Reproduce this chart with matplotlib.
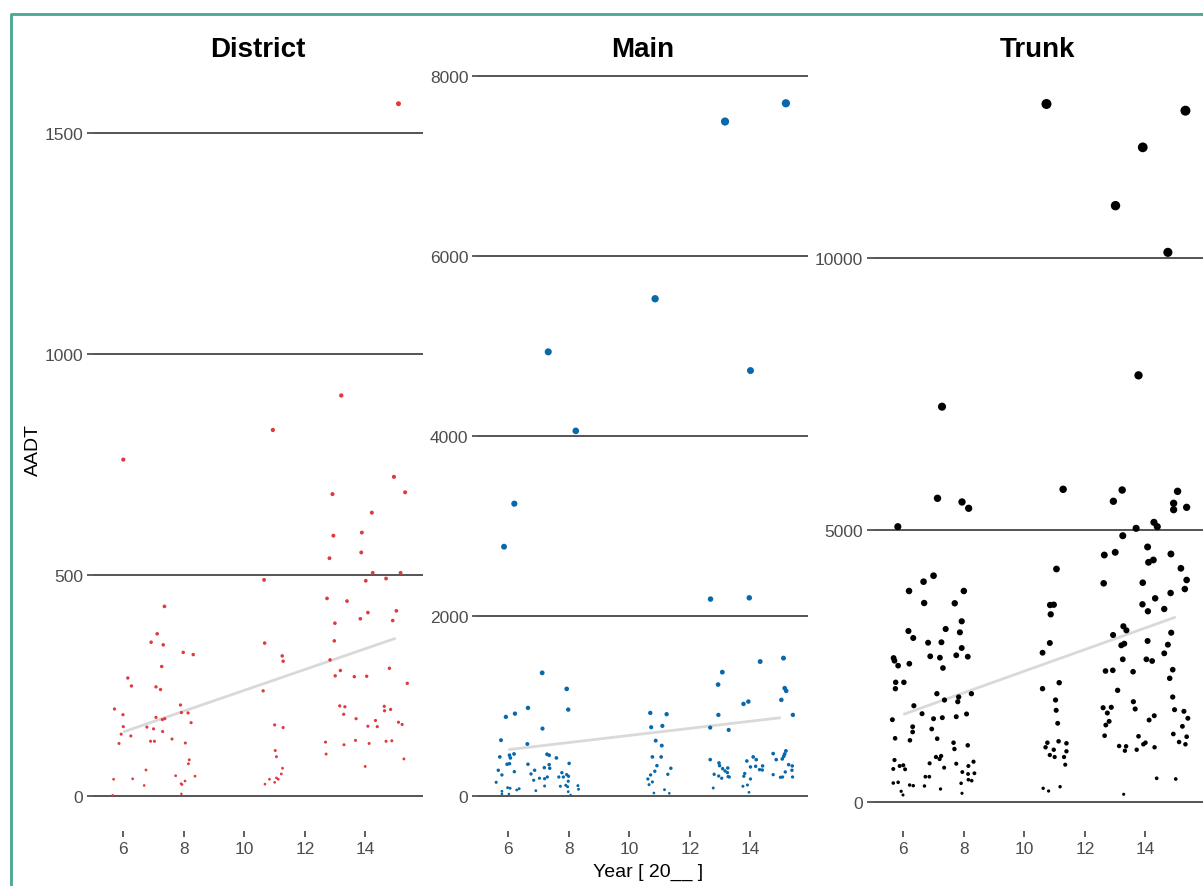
import matplotlib
matplotlib.use("Agg")
import matplotlib.pyplot as plt
from matplotlib.lines import Line2D
import numpy as np

plt.rcParams["font.family"] = ["Liberation Sans", "DejaVu Sans"]

PANELS = ["District", "Main", "Trunk"]
COLORS = {"District": "#E0393E", "Main": "#0868AC", "Trunk": "#000000"}
YTICKS = {"District": [0, 500, 1000, 1500],
          "Main": [0, 2000, 4000, 6000, 8000],
          "Trunk": [0, 5000, 10000]}
YLIMS = {"District": (-79, 1649), "Main": (-389, 8100), "Trunk": (-533, 13511)}
XTICKS = [6, 8, 10, 12, 14]

# (jittered year after 2000, AADT)
DISTRICT = [
    (6.0, 761), (10.94, 828), (13.2, 906), (15.09, 1566), (14.94, 722), (12.91, 683), (15.31, 687),
    (14.21, 641), (12.94, 589), (13.88, 596), (12.81, 538), (13.86, 551), (14.24, 505), (15.16, 505),
    (10.65, 489), (14.01, 487), (14.68, 492), (12.73, 447), (13.39, 441), (7.36, 429), (15.02, 419),
    (14.08, 415), (13.83, 401), (14.90, 397), (12.99, 391), (7.12, 367), (6.92, 348), (10.67, 346),
    (12.97, 351), (7.32, 342), (7.98, 325), (8.31, 320), (11.25, 317), (11.28, 305), (12.83, 308),
    (7.27, 293), (14.79, 289), (13.17, 284), (13.0, 272), (13.63, 270), (14.04, 271), (6.15, 267),
    (6.27, 249), (7.08, 247), (7.23, 241), (15.38, 255), (10.62, 238), (7.89, 206), (5.71, 197),
    (7.92, 189), (8.14, 188), (13.15, 204), (13.32, 202), (14.62, 203), (14.63, 193), (14.83, 196),
    (5.99, 184), (13.28, 185), (7.08, 178), (7.29, 173), (7.37, 175), (13.69, 175), (8.24, 166),
    (14.33, 171), (15.09, 167), (15.21, 162), (6.0, 157), (6.78, 156), (7.0, 152), (7.30, 146),
    (11.0, 161), (11.28, 155), (14.08, 158), (14.39, 157), (5.93, 140), (6.25, 136), (7.61, 129),
    (6.90, 124), (7.03, 124), (5.86, 119), (8.05, 120), (12.68, 122), (13.67, 126), (14.12, 119),
    (14.68, 124), (14.87, 125), (13.29, 116), (11.02, 103), (12.70, 95), (11.06, 89), (8.18, 82),
    (8.15, 73), (15.27, 84), (13.99, 67), (11.26, 63), (6.75, 59), (11.22, 50), (7.73, 46),
    (8.37, 45), (5.68, 38), (6.31, 39), (10.83, 38), (11.06, 41), (11.12, 38), (8.04, 34),
    (11.0, 31), (7.91, 28), (7.94, 26), (6.69, 24), (10.68, 27), (5.65, 2), (7.92, 5),
]

MAIN = [
    (15.17, 7697), (13.16, 7494), (10.85, 5525), (7.32, 4935), (14.0, 4727), (8.23, 4057),
    (6.2, 3248), (5.86, 2770), (12.68, 2188), (13.96, 2202),
    (7.12, 1368), (7.93, 1190), (6.65, 979), (7.98, 960), (5.92, 879), (6.22, 915), (7.13, 749),
    (5.76, 620), (6.63, 578), (5.72, 434), (6.04, 453), (6.07, 423), (6.19, 467), (7.28, 464),
    (7.35, 453), (7.59, 423), (5.96, 353), (6.04, 359), (6.65, 353), (7.35, 348), (7.19, 315),
    (7.37, 308), (8.01, 362), (5.67, 286), (6.2, 270), (6.87, 286), (5.79, 234), (6.75, 245),
    (7.29, 211), (7.2, 192), (7.03, 197), (6.84, 175), (7.77, 259), (7.67, 211), (7.82, 211),
    (7.93, 237), (7.99, 219), (7.98, 164), (5.6, 152), (7.2, 111), (7.72, 108), (7.9, 119),
    (7.96, 103), (8.3, 115), (8.32, 75), (5.98, 92), (6.06, 86), (6.36, 81), (6.28, 67),
    (6.91, 59), (5.79, 52), (5.79, 22), (6.02, 22), (7.98, 48), (8.06, 11),
    (14.32, 1494), (15.09, 1532), (13.07, 1376), (12.93, 1238), (15.13, 1198), (15.18, 1168),
    (15.02, 1068), (13.77, 1023), (13.93, 1049), (10.69, 923), (11.23, 909), (12.94, 901),
    (15.4, 901), (10.72, 764), (11.09, 779), (12.67, 760), (13.28, 734), (10.87, 615),
    (11.07, 560), (10.76, 434), (11.05, 434), (10.91, 337), (11.37, 308), (10.84, 275),
    (11.27, 241), (10.7, 234), (10.61, 189), (10.76, 156), (10.65, 126), (11.16, 70),
    (10.81, 33), (11.32, 30), (12.67, 404), (12.96, 367), (12.98, 337), (13.08, 304),
    (13.16, 278), (13.25, 311), (13.24, 259), (12.8, 241), (12.95, 222), (13.05, 197),
    (13.26, 215), (13.3, 211), (12.77, 89), (13.88, 389), (14.09, 434), (14.19, 404),
    (14.0, 323), (14.17, 330), (14.3, 293), (14.4, 334), (14.39, 289), (13.81, 250),
    (13.78, 219), (14.0, 189), (13.9, 122), (13.75, 108), (13.95, 41), (14.75, 471),
    (14.85, 404), (15.05, 412), (15.1, 442), (15.13, 467), (15.17, 501), (15.26, 348),
    (15.38, 334), (15.37, 286), (15.15, 267), (14.75, 237), (14.99, 208), (15.06, 211), (15.39, 211),
]

TRUNK = [
    (10.73, 12831), (15.32, 12708), (13.91, 12034), (13.01, 10962), (14.74, 10104), (13.77, 7843),
    (7.28, 7267),
    (7.13, 5583), (7.94, 5515), (8.16, 5399), (5.82, 5061), (7.0, 4160), (6.67, 4050), (6.19, 3879),
    (8.0, 3879), (6.69, 3658), (7.7, 3653), (7.93, 3322), (6.17, 3143), (7.4, 3180), (7.87, 3119),
    (6.33, 3015), (6.82, 2928), (7.26, 2936), (7.93, 2831),
    (11.28, 5748), (13.23, 5735), (12.94, 5528), (15.06, 5711), (14.93, 5491), (14.93, 5373),
    (15.36, 5417), (14.28, 5141), (14.39, 5061), (13.69, 5031), (13.25, 4895), (14.07, 4688),
    (12.64, 4540), (13.0, 4590), (14.84, 4559), (14.1, 4406), (14.26, 4449), (11.06, 4283),
    (15.17, 4296), (12.62, 4020), (13.91, 4031), (15.36, 4081), (15.3, 3915), (14.83, 3842),
    (14.32, 3744), (10.85, 3621), (10.97, 3627), (10.87, 3450), (13.9, 3634), (14.08, 3506),
    (14.62, 3548), (13.27, 3230), (13.37, 3156), (14.85, 3112), (12.93, 3070), (10.84, 2923),
    (13.3, 2910), (14.07, 2960), (14.74, 2892), (13.2, 2880),
    (5.68, 2647), (5.71, 2597), (5.83, 2506), (6.2, 2542), (6.89, 2678), (7.21, 2653), (7.31, 2463),
    (7.75, 2697), (8.13, 2671), (5.75, 2200), (6.02, 2200), (5.74, 2083), (7.11, 1991), (7.36, 1875),
    (7.83, 1930), (7.8, 1844), (8.25, 1991), (6.35, 1770), (6.62, 1623), (5.64, 1513), (7.0, 1531),
    (7.29, 1550), (7.75, 1568), (8.09, 1618), (6.31, 1384), (6.31, 1287), (6.94, 1342), (5.73, 1171),
    (6.22, 1134), (7.12, 1164), (7.66, 1090), (7.69, 974), (8.13, 1042), (5.71, 772), (5.67, 607),
    (5.88, 662), (6.0, 675), (6.06, 601), (6.87, 711), (7.08, 827), (7.2, 790), (7.25, 846),
    (7.35, 631), (7.75, 704), (8.15, 662), (8.32, 741), (7.95, 551), (8.14, 515), (8.35, 528),
    (8.15, 410), (8.26, 392), (5.67, 349), (5.83, 362), (6.21, 312), (6.33, 300), (6.73, 465),
    (6.86, 465), (6.7, 294), (7.23, 239), (7.91, 344), (5.93, 197), (5.99, 129), (7.94, 160),
    (10.6, 2744), (14.62, 2733), (13.25, 2623), (14.03, 2623), (14.22, 2592), (12.68, 2408),
    (12.92, 2421), (13.59, 2395), (14.9, 2432), (14.8, 2274), (10.6, 2083), (11.15, 2193),
    (13.08, 2053), (11.03, 1875), (13.6, 1844), (14.9, 1930), (11.05, 1686), (12.6, 1733),
    (12.87, 1741), (13.66, 1710), (14.96, 1697), (15.27, 1667), (12.74, 1636), (15.4, 1539),
    (14.29, 1586), (14.12, 1507), (11.1, 1447), (12.8, 1483), (12.69, 1415), (15.22, 1391),
    (14.92, 1250), (15.36, 1200), (12.65, 1219), (13.77, 1208), (15.11, 1103), (15.32, 1061),
    (14.0, 1090), (13.93, 1061), (13.13, 1029), (13.36, 1024), (13.32, 943), (13.71, 961),
    (14.3, 1006), (10.76, 1090), (11.13, 1116), (11.39, 1079), (10.7, 1006), (10.97, 961),
    (11.39, 932), (10.84, 864), (11.0, 827), (11.31, 827), (11.35, 686), (14.37, 436),
    (15.0, 423), (10.62, 252), (10.8, 202), (11.18, 281), (13.28, 142),
]

POINTS = {"District": DISTRICT, "Main": MAIN, "Trunk": TRUNK}
# linear trend, value at 2006 and 2015
TREND_YEARS = [6, 15]
TREND = {"District": [145, 357], "Main": [515, 870], "Trunk": [1610, 3400]}

W, H = 1203, 887
fig = plt.figure(figsize=(W / 100, H / 100), dpi=100)

lefts = [93, 478, 873]
for name, left in zip(PANELS, lefts):
    ax = fig.add_axes([left / W, 1 - 832 / H, 330 / W, 764 / H])
    yr, v = np.array(POINTS[name]).T
    d_px = 2.3 + 0.068 * np.sqrt(v)   # point size grows with AADT
    ax.scatter(yr, v, s=(d_px * 0.72) ** 2, color=COLORS[name], linewidths=0, zorder=3)
    ax.plot(TREND_YEARS, TREND[name], color="#d9d9d9", lw=2, zorder=2, solid_capstyle="butt")
    for t in YTICKS[name]:
        ax.axhline(t, color="#262626", lw=1.1, zorder=1)
    ax.set_xlim(5.0, 15.9)
    ax.set_ylim(*YLIMS[name])
    ax.set_xticks(XTICKS)
    ax.set_yticks(YTICKS[name])
    ax.tick_params(length=4, width=1.1, color="#333333", labelcolor="#4D4D4D",
                   labelsize=12.5, pad=3)
    for s in ax.spines.values():
        s.set_visible(False)
    ax.set_title(name, fontsize=20, fontweight="bold", pad=8)
    if name == "District":
        ax.set_ylabel("AADT", fontsize=14, labelpad=1.5)

fig.text(648 / W, 1 - 872 / H, "Year [ 20__ ]", ha="center", va="center", fontsize=14)

# teal frame, cut at the right and bottom edges
bx, by = 11 / W, 1 - 15 / H
fig.add_artist(Line2D([bx, bx, 1.01], [-0.01, by, by], transform=fig.transFigure,
                      color="#4AA594", lw=2))

fig.savefig("out.png", dpi=100)
